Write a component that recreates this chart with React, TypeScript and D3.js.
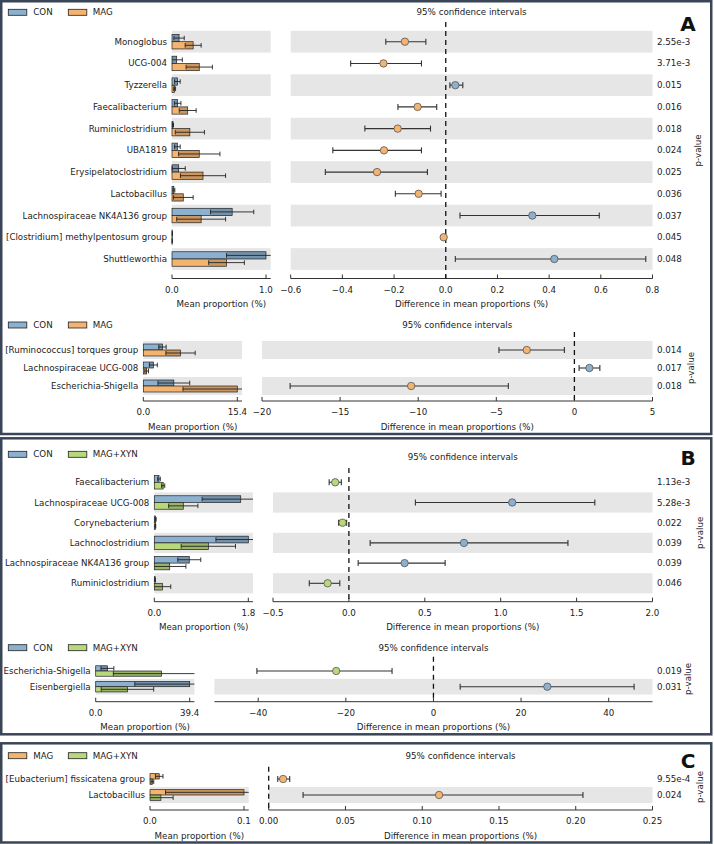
import React from 'react';
import * as d3 from 'd3';

const FONT = '"DejaVu Sans", Verdana, sans-serif';
const CON_COLOR = '#8cb0cf';
const MAG_COLOR = '#f4b470';
const XYN_COLOR = '#b8d87b';
const BAND = '#e6e6e6';
const INK = '#222';
const FS = 8.7;

// ---- Panel A, upper: CON vs MAG
const catA1 = ['Monoglobus', 'UCG-004', 'Tyzzerella', 'Faecalibacterium', 'Ruminiclostridium', 'UBA1819',
  'Erysipelatoclostridium', 'Lactobacillus', 'Lachnospiraceae NK4A136 group', '[Clostridium] methylpentosum group', 'Shuttleworthia'];
const conMeanA1 = [0.075, 0.05, 0.057, 0.06, 0.01, 0.057, 0.071, 0.02, 0.64, 0.003, 1.0];
const conSdA1 = [0.055, 0.06, 0.03, 0.035, 0.006, 0.03, 0.07, 0.01, 0.23, 0.001, 0.42];
const magMeanA1 = [0.225, 0.29, 0.028, 0.167, 0.19, 0.29, 0.33, 0.12, 0.31, 0.002, 0.58];
const magSdA1 = [0.085, 0.14, 0.01, 0.09, 0.155, 0.22, 0.24, 0.105, 0.26, 0.001, 0.19];
const diffA1 = [-0.158, -0.241, 0.037, -0.109, -0.186, -0.239, -0.266, -0.105, 0.335, -0.008, 0.42];
const lowA1 = [-0.232, -0.368, 0.016, -0.185, -0.313, -0.437, -0.466, -0.195, 0.055, -0.012, 0.037];
const highA1 = [-0.077, -0.094, 0.066, -0.035, -0.059, -0.094, -0.071, -0.018, 0.594, -0.004, 0.774];
const pA1 = ['2.55e-3', '3.71e-3', '0.015', '0.016', '0.018', '0.024', '0.025', '0.036', '0.037', '0.045', '0.048'];
const barTicksA1 = [0, 1.0];
const diffTicksA1 = [-0.6, -0.4, -0.2, 0, 0.2, 0.4, 0.6, 0.8];

// ---- Panel A, lower: CON vs MAG
const catA2 = ['[Ruminococcus] torques group', 'Lachnospiraceae UCG-008', 'Escherichia-Shigella'];
const conMeanA2 = [3.14, 1.65, 5.0];
const conSdA2 = [0.6, 0.65, 2.6];
const magMeanA2 = [6.1, 0.55, 15.4];
const magSdA2 = [2.4, 0.3, 8.9];
const diffA2 = [-3.05, 0.96, -10.45];
const lowA2 = [-4.83, 0.3, -18.2];
const highA2 = [-0.64, 1.63, -4.23];
const pA2 = ['0.014', '0.017', '0.018'];
const barTicksA2 = [0, 15.4];
const diffTicksA2 = [-20, -15, -10, -5, 0, 5];

// ---- Panel B, upper: CON vs MAG+XYN
const catB1 = ['Faecalibacterium', 'Lachnospiraceae UCG-008', 'Corynebacterium', 'Lachnoclostridium',
  'Lachnospiraceae NK4A136 group', 'Ruminiclostridium'];
const conMeanB1 = [0.09, 1.655, 0.025, 1.8, 0.67, 0.015];
const conSdB1 = [0.025, 0.74, 0.01, 0.62, 0.22, 0.005];
const xynMeanB1 = [0.17, 0.555, 0.02, 1.035, 0.295, 0.155];
const xynSdB1 = [0.03, 0.28, 0.008, 0.52, 0.31, 0.16];
const diffB1 = [-0.09, 1.076, -0.042, 0.758, 0.367, -0.14];
const lowB1 = [-0.13, 0.438, -0.068, 0.14, 0.061, -0.261];
const highB1 = [-0.05, 1.62, -0.015, 1.443, 0.634, -0.06];
const pB1 = ['1.13e-3', '5.28e-3', '0.022', '0.039', '0.039', '0.046'];
const barTicksB1 = [0, 1.8];
const diffTicksB1 = [-0.5, 0, 0.5, 1.0, 1.5, 2.0];

// ---- Panel B, lower: CON vs MAG+XYN
const catB2 = ['Escherichia-Shigella', 'Eisenbergiella'];
const conMeanB2 = [4.9, 39.4];
const conSdB2 = [2.7, 23];
const xynMeanB2 = [27.6, 13.3];
const xynSdB2 = [20.2, 11];
const diffB2 = [-22.2, 26.0];
const lowB2 = [-40.3, 6.1];
const highB2 = [-9.45, 45.8];
const pB2 = ['0.019', '0.031'];
const barTicksB2 = [0, 39.4];
const diffTicksB2 = [-40, -20, 0, 20, 40];

// ---- Panel C: MAG vs MAG+XYN
const catC = ['[Eubacterium] fissicatena group', 'Lactobacillus'];
const magMeanC = [0.0098, 0.1];
const magSdC = [0.004, 0.0835];
const xynMeanC = [0.0025, 0.0116];
const xynSdC = [0.0015, 0.013];
const diffC = [0.0094, 0.111];
const lowC = [0.0059, 0.0224];
const highC = [0.0137, 0.2047];
const pC = ['9.55e-4', '0.024'];
const barTicksC = [0, 0.1];
const diffTicksC = [0, 0.05, 0.1, 0.15, 0.2, 0.25];

const BAR_W = 98.7;
const GAP = 20;
const DIFF_RIGHT = 652.5;
const P_X = 657;

interface Layout {
  legendY: number;
  titleY: number;
  barLeft: number;
  firstRow: number;
  lastRow: number;
  dashTop: number;
  axisY: number;
  pLabelX: number;
}

interface SubplotProps {
  categories: string[];
  names: [string, string];
  colors: [string, string];
  mean1: number[];
  sd1: number[];
  mean2: number[];
  sd2: number[];
  diff: number[];
  low: number[];
  high: number[];
  pvals: string[];
  barTicks: number[];
  barFmt: string;
  diffDomain: [number, number];
  diffTicks: number[];
  diffFmt: string;
  layout: Layout;
}

const Subplot: React.FC<SubplotProps> = (p) => {
  const L = p.layout;
  const barMax = (d3.max(p.barTicks) as number) * 1.05;
  const xBar = d3.scaleLinear().domain([0, barMax]).range([L.barLeft, L.barLeft + BAR_W]);
  const diffLeft = L.barLeft + BAR_W + GAP;
  const xDiff = d3.scaleLinear().domain(p.diffDomain).range([diffLeft, DIFF_RIGHT]);
  const y = d3.scalePoint<string>().domain(p.categories).range([L.firstRow, L.lastRow]);
  const n = p.categories.length;
  const step = n > 1 ? y.step() : 20;
  const bh = step / 3;
  const fBar = d3.format(p.barFmt);
  const fDiff = d3.format(p.diffFmt);

  // error bar of a mean bar: shaded where it runs inside the bar, clipped to the axis
  const errBar = (m: number, s: number, cy: number, key: string) => {
    const lo = Math.max(0, m - s);
    const hi = Math.min(barMax, m + s);
    return (
      <g key={key}>
        <rect x={xBar(lo)} y={cy - bh / 2} width={Math.max(0, xBar(m) - xBar(lo))} height={bh}
          fill="#000" opacity={0.16} />
        <line x1={xBar(lo)} x2={xBar(hi)} y1={cy} y2={cy} stroke={INK} strokeWidth={0.9} />
        {m - s >= 0 && <line x1={xBar(lo)} x2={xBar(lo)} y1={cy - 2.3} y2={cy + 2.3} stroke={INK} strokeWidth={0.9} />}
        {m + s <= barMax && <line x1={xBar(hi)} x2={xBar(hi)} y1={cy - 2.3} y2={cy + 2.3} stroke={INK} strokeWidth={0.9} />}
      </g>
    );
  };

  const textProps = { fontFamily: FONT, fontSize: FS, fill: INK };

  return (
    <g>
      {/* legend */}
      {p.names.map((nm, k) => (
        <g key={nm}>
          <rect x={8.3 + k * 60} y={L.legendY - 3} width={18.5} height={6} fill={p.colors[k]} stroke={INK} strokeWidth={0.8} />
          <text x={33.3 + k * 59.5} y={L.legendY} dominantBaseline="central" {...textProps}>{nm}</text>
        </g>
      ))}
      <text x={(diffLeft + DIFF_RIGHT) / 2} y={L.titleY} textAnchor="middle" dominantBaseline="central" {...textProps}>
        95% confidence intervals
      </text>

      {/* bands */}
      {p.categories.map((c, i) => ((n - 1 - i) % 2 === 0 ? (
        <g key={'band' + c}>
          <rect x={L.barLeft} y={(y(c) as number) - step / 2} width={BAR_W} height={step} fill={BAND} />
          <rect x={diffLeft} y={(y(c) as number) - step / 2} width={DIFF_RIGHT - diffLeft} height={step} fill={BAND} />
        </g>
      ) : null))}

      {/* bars */}
      {p.categories.map((c, i) => {
        const cy = y(c) as number;
        return (
          <g key={'bar' + c}>
            <rect x={xBar(0)} y={cy - bh} width={xBar(p.mean1[i]) - xBar(0)} height={bh} fill={p.colors[0]} stroke={INK} strokeWidth={0.7} />
            <rect x={xBar(0)} y={cy} width={xBar(p.mean2[i]) - xBar(0)} height={bh} fill={p.colors[1]} stroke={INK} strokeWidth={0.7} />
            {errBar(p.mean1[i], p.sd1[i], cy - bh / 2, 'e1')}
            {errBar(p.mean2[i], p.sd2[i], cy + bh / 2, 'e2')}
            <text x={L.barLeft - 5} y={cy} textAnchor="end" dominantBaseline="central" {...textProps}>{c}</text>
          </g>
        );
      })}

      {/* bar axis */}
      <line x1={L.barLeft} x2={L.barLeft + BAR_W} y1={L.axisY} y2={L.axisY} stroke="#333" strokeWidth={1} />
      {p.barTicks.map((t) => (
        <g key={'bt' + t}>
          <line x1={xBar(t)} x2={xBar(t)} y1={L.axisY} y2={L.axisY - 4} stroke="#333" strokeWidth={1} />
          <text x={xBar(t)} y={L.axisY + 11} textAnchor="middle" dominantBaseline="central" {...textProps}>{fBar(t)}</text>
        </g>
      ))}
      <text x={L.barLeft + BAR_W / 2} y={L.axisY + 25.5} textAnchor="middle" dominantBaseline="central" {...textProps}>
        Mean proportion (%)
      </text>

      {/* diff axis */}
      <line x1={diffLeft} x2={DIFF_RIGHT} y1={L.axisY} y2={L.axisY} stroke="#333" strokeWidth={1} />
      {p.diffTicks.map((t) => (
        <g key={'dt' + t}>
          <line x1={xDiff(t)} x2={xDiff(t)} y1={L.axisY} y2={L.axisY - 4} stroke="#333" strokeWidth={1} />
          <text x={xDiff(t)} y={L.axisY + 11} textAnchor="middle" dominantBaseline="central" {...textProps}>{fDiff(t)}</text>
        </g>
      ))}
      <text x={(diffLeft + DIFF_RIGHT) / 2} y={L.axisY + 25.5} textAnchor="middle" dominantBaseline="central" {...textProps}>
        Difference in mean proportions (%)
      </text>

      {/* zero line */}
      <line x1={xDiff(0)} x2={xDiff(0)} y1={L.dashTop} y2={L.axisY} stroke="#111" strokeWidth={1.3} strokeDasharray="5,4" />

      {/* confidence intervals */}
      {p.categories.map((c, i) => {
        const cy = y(c) as number;
        const col = p.diff[i] > 0 ? p.colors[0] : p.colors[1];
        return (
          <g key={'ci' + c}>
            <line x1={xDiff(p.low[i])} x2={xDiff(p.high[i])} y1={cy} y2={cy} stroke="#333" strokeWidth={1.1} />
            <line x1={xDiff(p.low[i])} x2={xDiff(p.low[i])} y1={cy - 3} y2={cy + 3} stroke="#333" strokeWidth={1.1} />
            <line x1={xDiff(p.high[i])} x2={xDiff(p.high[i])} y1={cy - 3} y2={cy + 3} stroke="#333" strokeWidth={1.1} />
            <circle cx={xDiff(p.diff[i])} cy={cy} r={3.7} fill={col} stroke="#555" strokeWidth={0.8} />
            <text x={P_X} y={cy} dominantBaseline="central" {...textProps}>{p.pvals[i]}</text>
          </g>
        );
      })}
      <text transform={`translate(${L.pLabelX},${(L.firstRow + L.lastRow) / 2}) rotate(-90)`} textAnchor="middle"
        dominantBaseline="central" {...textProps}>p-value</text>
    </g>
  );
};

const PanelFrame: React.FC<{ y0: number; y1: number; letter: string; letterY: number }> = ({ y0, y1, letter, letterY }) => (
  <g>
    <rect x={1.25} y={y0} width={710} height={y1 - y0} fill="none" stroke="#3a4657" strokeWidth={2.5} />
    <text x={688} y={letterY} textAnchor="middle" dominantBaseline="central" fontFamily={FONT} fontWeight="bold"
      fontSize={20} fill="#111">{letter}</text>
  </g>
);

export default function App() {
  return (
    <svg width={714} height={844} style={{ position: 'absolute', left: 0, top: 0, background: '#fff' }}>
      <rect x={0} y={0} width={714} height={844} fill="#fff" />
      <Subplot categories={catA1} names={['CON', 'MAG']} colors={[CON_COLOR, MAG_COLOR]}
        mean1={conMeanA1} sd1={conSdA1} mean2={magMeanA1} sd2={magSdA1}
        diff={diffA1} low={lowA1} high={highA1} pvals={pA1}
        barTicks={barTicksA1} barFmt=".1f" diffDomain={[-0.6, 0.8]} diffTicks={diffTicksA1} diffFmt=".1f"
        layout={{ legendY: 12.3, titleY: 12.3, barLeft: 172, firstRow: 41.7, lastRow: 259, dashTop: 22, axisY: 278.5, pLabelX: 698 }} />
      <Subplot categories={catA2} names={['CON', 'MAG']} colors={[CON_COLOR, MAG_COLOR]}
        mean1={conMeanA2} sd1={conSdA2} mean2={magMeanA2} sd2={magSdA2}
        diff={diffA2} low={lowA2} high={highA2} pvals={pA2}
        barTicks={barTicksA2} barFmt=".1f" diffDomain={[-20, 5]} diffTicks={diffTicksA2} diffFmt="d"
        layout={{ legendY: 325, titleY: 324.5, barLeft: 143.3, firstRow: 350, lastRow: 386, dashTop: 332, axisY: 401, pLabelX: 691 }} />
      <PanelFrame y0={1.25} y1={434} letter="A" letterY={24} />

      <Subplot categories={catB1} names={['CON', 'MAG+XYN']} colors={[CON_COLOR, XYN_COLOR]}
        mean1={conMeanB1} sd1={conSdB1} mean2={xynMeanB1} sd2={xynSdB1}
        diff={diffB1} low={lowB1} high={highB1} pvals={pB1}
        barTicks={barTicksB1} barFmt=".1f" diffDomain={[-0.5, 2.0]} diffTicks={diffTicksB1} diffFmt=".1f"
        layout={{ legendY: 454.3, titleY: 457, barLeft: 154.3, firstRow: 482.3, lastRow: 583.3, dashTop: 468, axisY: 601.7, pLabelX: 700 }} />
      <Subplot categories={catB2} names={['CON', 'MAG+XYN']} colors={[CON_COLOR, XYN_COLOR]}
        mean1={conMeanB2} sd1={conSdB2} mean2={xynMeanB2} sd2={xynSdB2}
        diff={diffB2} low={lowB2} high={highB2} pvals={pB2}
        barTicks={barTicksB2} barFmt=".1f" diffDomain={[-50, 50]} diffTicks={diffTicksB2} diffFmt="d"
        layout={{ legendY: 647.7, titleY: 647.7, barLeft: 95.7, firstRow: 671, lastRow: 686.7, dashTop: 656.7, axisY: 701.7, pLabelX: 688 }} />
      <PanelFrame y0={438.3} y1={734.3} letter="B" letterY={458} />

      <Subplot categories={catC} names={['MAG', 'MAG+XYN']} colors={[MAG_COLOR, XYN_COLOR]}
        mean1={magMeanC} sd1={magSdC} mean2={xynMeanC} sd2={xynSdC}
        diff={diffC} low={lowC} high={highC} pvals={pC}
        barTicks={barTicksC} barFmt=".1f" diffDomain={[0, 0.25]} diffTicks={diffTicksC} diffFmt=".2f"
        layout={{ legendY: 755.7, titleY: 755.5, barLeft: 150, firstRow: 779, lastRow: 795, dashTop: 766.7, axisY: 810, pLabelX: 700 }} />
      <PanelFrame y0={743.3} y1={842.5} letter="C" letterY={761} />
    </svg>
  );
}
